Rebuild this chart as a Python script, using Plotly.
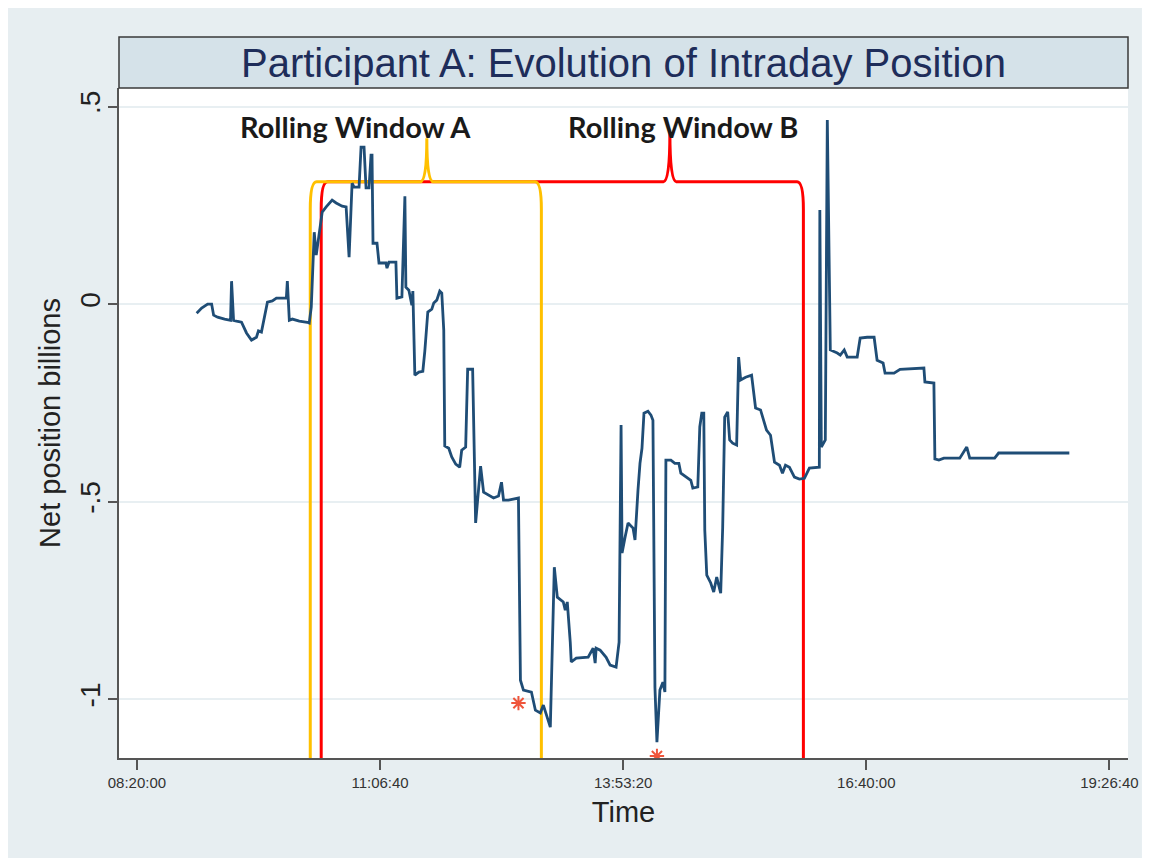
import plotly.graph_objects as go

# Participant A: net intraday position (billions)
times = [
    "09:00:58", "09:04:23", "09:08:29", "09:11:13", "09:12:35", "09:15:19", "09:20:06", "09:22:50",
    "09:24:11", "09:24:53", "09:26:15", "09:28:17", "09:31:42", "09:35:07", "09:38:32", "09:41:57",
    "09:43:19", "09:45:22", "09:47:25", "09:49:28", "09:52:52", "09:55:37", "09:59:42", "10:02:26",
    "10:03:07", "10:04:29", "10:06:32", "10:11:19", "10:16:46", "10:18:08", "10:19:31", "10:20:52",
    "10:21:33", "10:22:55", "10:27:01", "10:29:45", "10:33:50", "10:36:35", "10:40:41", "10:43:25",
    "10:45:27", "10:47:30", "10:48:52", "10:52:17", "10:53:39", "10:55:42", "10:57:04", "10:59:07",
    "11:00:29", "11:01:10", "11:01:51", "11:04:35", "11:05:57", "11:10:44", "11:11:25", "11:12:47",
    "11:17:33", "11:18:14", "11:21:39", "11:23:42", "11:24:23", "11:26:26", "11:28:29", "11:29:10",
    "11:30:32", "11:33:16", "11:36:00", "11:37:22", "11:39:25", "11:42:09", "11:43:31", "11:45:34",
    "11:47:37", "11:48:59", "11:50:21", "11:51:02", "11:53:46", "11:55:49", "11:58:33", "12:01:16",
    "12:02:38", "12:05:22", "12:06:44", "12:10:09", "12:11:31", "12:12:12", "12:15:36", "12:17:39",
    "12:24:29", "12:27:53", "12:29:56", "12:31:18", "12:34:43", "12:41:33", "12:42:55", "12:44:58",
    "12:50:26", "12:53:10", "12:56:34", "12:58:37", "13:03:24", "13:06:08", "13:08:11", "13:12:17",
    "13:13:39", "13:15:01", "13:17:04", "13:17:45", "13:21:09", "13:29:21", "13:32:46", "13:34:08",
    "13:34:49", "13:37:33", "13:41:39", "13:44:23", "13:48:29", "13:50:32", "13:51:54", "13:52:35",
    "13:54:38", "13:56:41", "14:00:06", "14:01:27", "14:03:30", "14:04:52", "14:06:14", "14:07:36",
    "14:10:20", "14:12:23", "14:13:45", "14:15:07", "14:16:29", "14:18:32", "14:20:35", "14:21:57",
    "14:22:38", "14:26:03", "14:28:47", "14:31:31", "14:32:53", "14:36:18", "14:39:43", "14:41:05",
    "14:44:30", "14:45:52", "14:47:14", "14:48:36", "14:49:17", "14:50:39", "14:53:22", "14:55:25",
    "14:57:28", "15:00:12", "15:01:34", "15:02:56", "15:04:59", "15:06:21", "15:08:24", "15:11:08",
    "15:12:30", "15:13:52", "15:17:16", "15:21:22", "15:24:06", "15:27:31", "15:29:34", "15:31:37",
    "15:34:21", "15:37:05", "15:40:30", "15:42:33", "15:44:36", "15:47:20", "15:50:45", "15:54:10",
    "15:57:35", "16:00:59", "16:07:49", "16:08:10", "16:09:11", "16:11:55", "16:13:17", "16:15:20",
    "16:20:07", "16:22:10", "16:24:53", "16:26:56", "16:33:46", "16:35:49", "16:40:35", "16:45:22",
    "16:47:25", "16:51:31", "16:52:53", "16:59:03", "17:03:09", "17:19:30", "17:20:11", "17:26:21",
    "17:27:02", "17:29:46", "17:33:11", "17:44:06", "17:48:53", "17:50:56", "18:08:00", "18:10:44",
    "18:59:12",
]
net_position = [
    -0.023, -0.010, 0.000, 0.000, -0.028, -0.033, -0.038, -0.041,
    -0.041, 0.058, -0.041, -0.043, -0.046, -0.073, -0.091, -0.084,
    -0.068, -0.071, -0.033, 0.005, 0.008, 0.015, 0.015, 0.015,
    0.058, -0.041, -0.038, -0.043, -0.046, -0.048, -0.008, 0.124,
    0.182, 0.124, 0.233, 0.246, 0.263, 0.256, 0.248, 0.246,
    0.119, 0.306, 0.296, 0.296, 0.397, 0.397, 0.294, 0.294,
    0.377, 0.377, 0.154, 0.154, 0.104, 0.104, 0.091, 0.106,
    0.106, 0.015, 0.018, 0.273, 0.043, 0.035, -0.003, 0.033,
    -0.180, -0.172, -0.170, -0.119, -0.020, -0.013, 0.003, 0.010,
    0.033, 0.028, -0.066, -0.359, -0.365, -0.387, -0.405, -0.413,
    -0.370, -0.362, -0.165, -0.165, -0.410, -0.554, -0.410, -0.476,
    -0.491, -0.486, -0.451, -0.496, -0.496, -0.491, -0.952, -0.977,
    -0.982, -1.028, -1.035, -1.015, -1.071, -0.666, -0.742, -0.754,
    -0.775, -0.754, -0.856, -0.906, -0.896, -0.894, -0.871, -0.909,
    -0.871, -0.876, -0.894, -0.914, -0.919, -0.856, -0.306, -0.630,
    -0.590, -0.554, -0.567, -0.597, -0.471, -0.403, -0.365, -0.276,
    -0.271, -0.281, -0.294, -0.970, -1.109, -0.977, -0.957, -0.982,
    -0.395, -0.395, -0.403, -0.403, -0.428, -0.438, -0.446, -0.466,
    -0.463, -0.311, -0.276, -0.276, -0.572, -0.686, -0.706, -0.729,
    -0.691, -0.732, -0.565, -0.286, -0.273, -0.344, -0.352, -0.357,
    -0.134, -0.192, -0.185, -0.180, -0.263, -0.268, -0.294, -0.319,
    -0.332, -0.400, -0.408, -0.428, -0.408, -0.413, -0.438, -0.443,
    -0.441, -0.415, -0.413, 0.238, -0.362, -0.344, 0.466, -0.116,
    -0.124, -0.129, -0.116, -0.134, -0.134, -0.086, -0.084, -0.084,
    -0.142, -0.149, -0.175, -0.175, -0.165, -0.162, -0.197, -0.200,
    -0.392, -0.395, -0.390, -0.390, -0.362, -0.390, -0.390, -0.377,
    -0.377,
]

# red asterisks marking the window minima
star_times = ["12:41:33", "14:16:29"]
star_values = [-1.010, -1.144]

# rolling window brackets
window_names = ["Rolling Window A", "Rolling Window B"]
window_start = ["10:18:50", "10:26:20"]
window_end = ["12:57:16", "15:56:53"]
window_tip = ["11:38:44", "14:25:22"]
window_peak = [0.420, 0.435]
window_level = 0.310
window_label_time = ["10:49:34", "14:34:14"]
window_colors = ["#ffc000", "#ff0000"]

tick_labels = ["08:20:00", "11:06:40", "13:53:20", "16:40:00", "19:26:40"]
y_ticks = [-1, -0.5, 0, 0.5]
y_tick_labels = ["-1", "-.5", "0", ".5"]


def secs(hms):
    h, m, s = (int(p) for p in hms.split(":"))
    return h * 3600 + m * 60 + s


def bracket_path(start, end, tip, peak, level, bottom=-1.3, cx=260, cy=0.07, dx=260):
    s, e, t = secs(start), secs(end), secs(tip)
    return (f"M {s},{bottom} L {s},{level - cy} Q {s},{level} {s + cx},{level} "
            f"L {t - dx},{level} Q {t},{level} {t},{peak} Q {t},{level} {t + dx},{level} "
            f"L {e - cx},{level} Q {e},{level} {e},{level - cy} L {e},{bottom}")


fig = go.Figure()
fig.add_trace(go.Scatter(x=[secs(t) for t in times], y=net_position, mode="lines",
                         line=dict(color="#1f4d76", width=2.8), showlegend=False))
fig.add_trace(go.Scatter(x=[secs(t) for t in star_times], y=star_values, mode="markers",
                         marker=dict(symbol="asterisk-open", size=12,
                                     line=dict(color="#ff2020", width=2)),
                         showlegend=False))

shapes = [
    # light bluish graph region, thin white strip at right and bottom
    dict(type="rect", xref="paper", yref="paper", x0=-0.2, x1=1.0138, y0=-0.1493, y1=1.3,
         fillcolor="#e7eef1", line=dict(width=0), layer="below"),
    dict(type="rect", xref="paper", yref="paper", x0=0, x1=1, y0=0, y1=1,
         fillcolor="white", line=dict(width=0), layer="below"),
    # title box
    dict(type="rect", xref="paper", yref="paper", x0=0, x1=1, y0=1.0, y1=1.0761,
         fillcolor="#d5e2e9", line=dict(color="#3a3a3a", width=1.5)),
]
# draw B first so A sits on top where they share the top edge
for i in [1, 0]:
    shapes.append(dict(type="path", xref="x", yref="y", layer="between",
                       path=bracket_path(window_start[i], window_end[i], window_tip[i],
                                         window_peak[i], window_level),
                       line=dict(color=window_colors[i], width=3)))

annotations = [
    dict(text="Participant A: Evolution of Intraday Position", xref="paper", yref="paper",
         x=0.5, y=1.038, xanchor="center", yanchor="middle", showarrow=False,
         font=dict(family="Liberation Sans, Arial", size=40, color="#1e2d5a")),
]
for name, t in zip(window_names, window_label_time):
    annotations.append(dict(text="<b>" + name + "</b>", x=secs(t), y=0.45, xref="x", yref="y",
                            xanchor="center", yanchor="middle", showarrow=False,
                            font=dict(family="Lato, Open Sans", size=29, color="#1a1a1a")))

# page body adds an 8px margin, so the figure is 16px smaller than the window
fig.update_layout(
    width=1143, height=855,
    margin=dict(l=111, r=19, t=80, b=105, pad=0),
    paper_bgcolor="white", plot_bgcolor="white",
    font=dict(family="Liberation Sans, Arial", color="#222"),
    shapes=shapes, annotations=annotations,
    showlegend=False,
)
fig.update_xaxes(
    range=[29263, 70765],
    tickvals=[30000, 40000, 50000, 60000, 70000], ticktext=tick_labels,
    ticks="outside", ticklen=10, tickcolor="#555", tickwidth=1.5,
    tickfont=dict(size=15, color="#333"),
    showline=True, linecolor="#555", linewidth=1.5,
    showgrid=False, zeroline=False,
    title=dict(text="Time", font=dict(size=29, color="#222"), standoff=12),
)
fig.update_yaxes(
    range=[-1.149, 0.547],
    tickvals=y_ticks, ticktext=y_tick_labels, tickangle=-90,
    ticks="outside", ticklen=9, tickcolor="#555", tickwidth=1.5,
    ticklabelstandoff=-3,
    tickfont=dict(size=28, color="#222"),
    showline=True, linecolor="#555", linewidth=1.5,
    showgrid=True, gridcolor="#e8eff2", gridwidth=1.5, zeroline=False,
    title=dict(text="Net position billions", font=dict(size=29, color="#222"), standoff=6),
)

fig.write_html("out.html")
